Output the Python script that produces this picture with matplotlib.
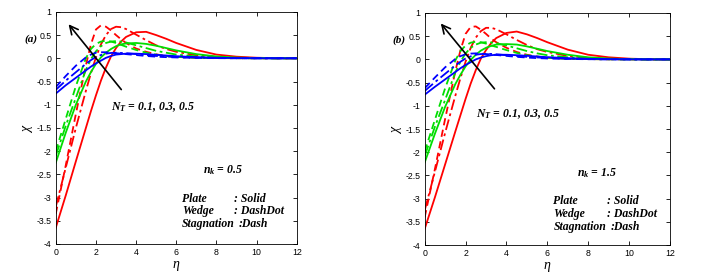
import numpy as np
import matplotlib
matplotlib.use("Agg")
import matplotlib.pyplot as plt

# eta sample points (denser around the peaks)
eta = [0, 0.5, 1, 1.5, 1.75, 2, 2.25, 2.5, 2.75, 3, 3.25, 3.5, 4, 4.5, 5, 5.5, 6, 7, 8, 9, 10, 11, 12]

# panel (a), n_k = 0.5 ; N_T = 0.1 (red), 0.3 (green), 0.5 (blue)
a_red_plate = [-3.65, -2.95, -2.22, -1.5, -1.14, -0.8, -0.48, -0.2, 0.04, 0.22, 0.36, 0.46, 0.56, 0.57, 0.5, 0.42, 0.33, 0.18, 0.08, 0.035, 0.012, 0.003, 0]
a_red_wedge = [-3.2, -2.35, -1.5, -0.7, -0.32, 0.02, 0.3, 0.5, 0.63, 0.68, 0.67, 0.63, 0.51, 0.39, 0.28, 0.2, 0.14, 0.065, 0.028, 0.011, 0.004, 0.001, 0]
a_red_stag = [-3.35, -2.3, -1.2, -0.15, 0.3, 0.62, 0.71, 0.68, 0.6, 0.5, 0.41, 0.33, 0.21, 0.14, 0.085, 0.05, 0.03, 0.012, 0.005, 0.002, 0, 0, 0]
a_green_plate = [-2.25, -1.6, -1.0, -0.5, -0.3, -0.12, 0.02, 0.12, 0.2, 0.26, 0.3, 0.32, 0.33, 0.31, 0.27, 0.22, 0.17, 0.09, 0.04, 0.015, 0.005, 0.001, 0]
a_green_wedge = [-2.1, -1.45, -0.85, -0.25, -0.02, 0.15, 0.26, 0.33, 0.36, 0.37, 0.36, 0.34, 0.28, 0.22, 0.16, 0.12, 0.08, 0.04, 0.015, 0.005, 0.002, 0, 0]
a_green_stag = [-2.0, -1.3, -0.6, 0.0, 0.2, 0.31, 0.36, 0.38, 0.36, 0.33, 0.29, 0.25, 0.18, 0.12, 0.08, 0.05, 0.03, 0.012, 0.005, 0.002, 0, 0, 0]
a_blue_plate = [-0.76, -0.58, -0.42, -0.26, -0.18, -0.11, -0.05, 0.01, 0.05, 0.08, 0.09, 0.1, 0.1, 0.09, 0.075, 0.06, 0.045, 0.025, 0.012, 0.005, 0.002, 0, 0]
a_blue_wedge = [-0.68, -0.48, -0.3, -0.12, -0.04, 0.03, 0.07, 0.1, 0.115, 0.12, 0.115, 0.11, 0.09, 0.07, 0.05, 0.04, 0.03, 0.015, 0.006, 0.002, 0, 0, 0]
a_blue_stag = [-0.62, -0.38, -0.16, 0.02, 0.08, 0.12, 0.13, 0.13, 0.12, 0.11, 0.1, 0.09, 0.07, 0.05, 0.035, 0.025, 0.018, 0.008, 0.003, 0.001, 0, 0, 0]

# panel (b), n_k = 1.5
b_red_plate = [-3.65, -2.97, -2.26, -1.55, -1.2, -0.85, -0.52, -0.23, 0.02, 0.2, 0.35, 0.46, 0.57, 0.6, 0.54, 0.46, 0.37, 0.21, 0.1, 0.045, 0.016, 0.004, 0]
b_red_wedge = [-3.25, -2.42, -1.58, -0.78, -0.4, -0.05, 0.25, 0.47, 0.61, 0.68, 0.68, 0.65, 0.54, 0.42, 0.31, 0.22, 0.16, 0.075, 0.032, 0.013, 0.005, 0.001, 0]
b_red_stag = [-3.4, -2.36, -1.28, -0.25, 0.2, 0.55, 0.7, 0.71, 0.64, 0.55, 0.45, 0.37, 0.25, 0.16, 0.1, 0.06, 0.036, 0.014, 0.006, 0.002, 0, 0, 0]
b_green_plate = [-2.22, -1.6, -1.02, -0.53, -0.33, -0.15, -0.01, 0.1, 0.19, 0.25, 0.29, 0.32, 0.33, 0.32, 0.28, 0.23, 0.18, 0.1, 0.045, 0.018, 0.006, 0.001, 0]
b_green_wedge = [-2.08, -1.45, -0.87, -0.28, -0.05, 0.13, 0.25, 0.32, 0.36, 0.37, 0.365, 0.35, 0.3, 0.24, 0.18, 0.13, 0.09, 0.045, 0.018, 0.006, 0.002, 0, 0]
b_green_stag = [-1.98, -1.3, -0.62, -0.02, 0.18, 0.3, 0.36, 0.38, 0.37, 0.34, 0.3, 0.27, 0.2, 0.14, 0.09, 0.06, 0.035, 0.014, 0.006, 0.002, 0, 0, 0]
b_blue_plate = [-0.76, -0.59, -0.43, -0.27, -0.19, -0.12, -0.06, 0.0, 0.04, 0.07, 0.09, 0.1, 0.1, 0.09, 0.078, 0.063, 0.048, 0.027, 0.013, 0.006, 0.002, 0, 0]
b_blue_wedge = [-0.68, -0.49, -0.31, -0.13, -0.05, 0.02, 0.065, 0.1, 0.115, 0.12, 0.118, 0.11, 0.09, 0.072, 0.055, 0.042, 0.032, 0.016, 0.007, 0.002, 0, 0, 0]
b_blue_stag = [-0.62, -0.39, -0.17, 0.01, 0.07, 0.11, 0.125, 0.13, 0.125, 0.115, 0.105, 0.095, 0.075, 0.055, 0.04, 0.028, 0.02, 0.009, 0.004, 0.001, 0, 0, 0]

panels = {
    "a": [a_red_plate, a_red_wedge, a_red_stag, a_green_plate, a_green_wedge,
          a_green_stag, a_blue_plate, a_blue_wedge, a_blue_stag],
    "b": [b_red_plate, b_red_wedge, b_red_stag, b_green_plate, b_green_wedge,
          b_green_stag, b_blue_plate, b_blue_wedge, b_blue_stag],
}
nk_values = {"a": "0.5", "b": "1.5"}

colors = ["red", "red", "red", "#00dd00", "#00dd00", "#00dd00", "blue", "blue", "blue"]
styles = ["-", (0, (6, 2, 1.5, 2)), (0, (4, 2.5))] * 3

serif = "Liberation Serif"
plt.rcParams["mathtext.fontset"] = "custom"
plt.rcParams["mathtext.rm"] = serif
plt.rcParams["mathtext.it"] = serif + ":italic"
plt.rcParams["mathtext.bf"] = serif + ":bold"
plt.rcParams["mathtext.bfit"] = serif + ":bold:italic"
plt.rcParams["font.sans-serif"] = ["Liberation Sans", "DejaVu Sans"]

fig = plt.figure(figsize=(7.15, 2.76), dpi=100)
ax_a = fig.add_axes([0.078, 0.116, 0.337, 0.841])
ax_b = fig.add_axes([0.594, 0.112, 0.343, 0.841])

# text positions per panel (data coords)
nt_pos = {"a": (2.75, -1.12), "b": (2.5, -1.24)}
arrow_pos = {"a": ((3.35, -0.72), (0.55, 0.78)), "b": ((3.5, -0.68), (0.7, 0.82))}
nk_pos = {"a": (7.35, -2.47), "b": (7.45, -2.52)}
leg_y = {"a": -3.03, "b": -3.06}
tstyle = dict(family=serif, weight="bold", style="italic")

for key, ax in (("a", ax_a), ("b", ax_b)):
    for ys, c, ls in zip(panels[key], colors, styles):
        ax.plot(eta, ys, color=c, linestyle=ls, linewidth=1.3)
    ax.set_xlim(0, 12)
    ax.set_ylim(-4, 1)
    ax.set_xticks(np.arange(0, 13, 2))
    ax.set_yticks(np.arange(-4, 1.01, 0.5))
    ax.set_yticklabels(["-4", "-3.5", "-3", "-2.5", "-2", "-1.5", "-1", "-0.5", "0", "0.5", "1"])
    ax.tick_params(direction="in", top=True, right=True, labelsize=6.3, length=3, width=0.6, pad=3)
    for sp in ax.spines.values():
        sp.set_linewidth(0.6)
    ax.set_xlabel(r"$\eta$", fontsize=10, labelpad=1)
    ax.set_ylabel(r"$\chi$", fontsize=10, labelpad=1)

    start, end = arrow_pos[key]
    ax.annotate("", xy=end, xytext=start,
                arrowprops=dict(arrowstyle="->,head_length=0.6,head_width=0.3", color="black", lw=1.2))
    ax.text(*nt_pos[key], r"$\mathbfit{N}_{\mathbfit{T}}$" + " = 0.1, 0.3, 0.5", fontsize=8.5, **tstyle)
    ax.text(*nk_pos[key], r"$\mathbfit{n}_{\mathbfit{k}}$" + " = " + nk_values[key], fontsize=8.5, **tstyle)
    y0 = leg_y[key]
    for i, (lab, val) in enumerate([("Plate", ": Solid"), ("Wedge", ": DashDot"), ("Stagnation", ":Dash")]):
        yy = y0 - i * 0.27
        ax.text(6.3, yy, lab, fontsize=8.5, va="center", **tstyle)
        ax.text(8.9 if i < 2 else 9.1, yy, val, fontsize=8.5, va="center", **tstyle)
    ax.text(-0.13, 0.87, "(" + key + ")", transform=ax.transAxes, fontsize=8, **tstyle)

fig.savefig("out.png", dpi=100)
